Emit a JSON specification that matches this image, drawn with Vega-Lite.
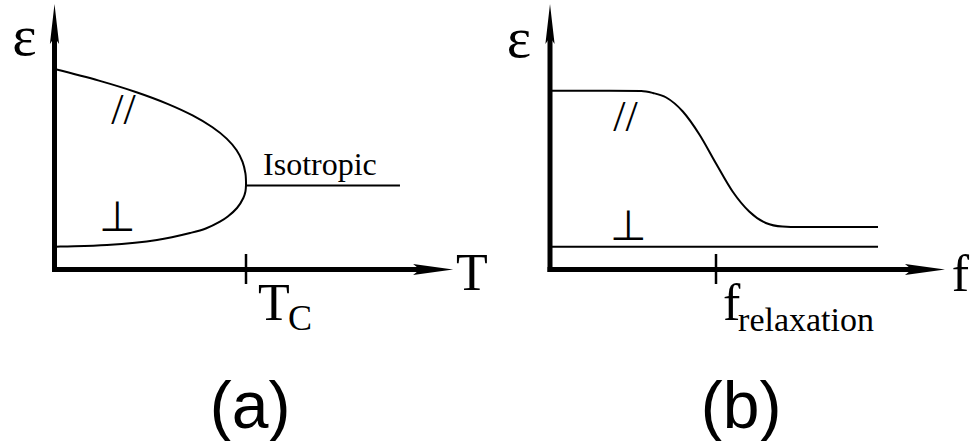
{
  "$schema": "https://vega.github.io/schema/vega-lite/v6.json",
  "padding": 0,
  "spacing": 0,
  "bounds": "flush",
  "background": "white",
  "config": {"view": {"stroke": null}, "font": "Liberation Serif, Times New Roman, Times, DejaVu Serif, serif"},
  "hconcat": [
    {
      "width": 485,
      "height": 441,
      "encoding": {
        "x": {"field": "T", "type": "quantitative", "axis": null,
              "scale": {"domain": [-0.2846, 2.248], "nice": false, "zero": false}},
        "y": {"field": "eps", "type": "quantitative", "axis": null,
              "scale": {"domain": [-1.715, 2.695], "nice": false, "zero": false}}
      },
      "layer": [
        {
          "data": {"values": [
            {"i": 0, "T": 0.0, "eps": 2.005},
            {"i": 1, "T": 0.232, "eps": 1.889},
            {"i": 2, "T": 0.428, "eps": 1.773},
            {"i": 3, "T": 0.59, "eps": 1.657},
            {"i": 4, "T": 0.721, "eps": 1.541},
            {"i": 5, "T": 0.823, "eps": 1.425},
            {"i": 6, "T": 0.899, "eps": 1.309},
            {"i": 7, "T": 0.951, "eps": 1.193},
            {"i": 8, "T": 0.982, "eps": 1.077},
            {"i": 9, "T": 0.997, "eps": 0.961},
            {"i": 10, "T": 0.9995, "eps": 0.903},
            {"i": 11, "T": 1.0, "eps": 0.845},
            {"i": 12, "T": 0.997, "eps": 0.78},
            {"i": 13, "T": 0.986, "eps": 0.715},
            {"i": 14, "T": 0.953, "eps": 0.615},
            {"i": 15, "T": 0.905, "eps": 0.53},
            {"i": 16, "T": 0.864, "eps": 0.478},
            {"i": 17, "T": 0.79, "eps": 0.41},
            {"i": 18, "T": 0.708, "eps": 0.365},
            {"i": 19, "T": 0.535, "eps": 0.295},
            {"i": 20, "T": 0.274, "eps": 0.245},
            {"i": 21, "T": 0.0, "eps": 0.228}
          ]},
          "mark": {"type": "line", "interpolate": "catmull-rom", "color": "black", "strokeWidth": 2},
          "encoding": {"order": {"field": "i", "type": "quantitative"}}
        },
        {
          "data": {"values": [{"T": 1.0, "T2": 1.804, "eps": 0.84, "eps2": 0.84}]},
          "mark": {"type": "rule", "color": "black", "strokeWidth": 2},
          "encoding": {"x2": {"field": "T2"}, "y2": {"field": "eps2"}}
        },
        {
          "data": {"values": [
            {"T": 0.0, "T2": 0.0, "eps": -0.025, "eps2": 2.4},
            {"T": -0.013, "T2": 1.935, "eps": 0.0, "eps2": 0.0}
          ]},
          "mark": {"type": "rule", "color": "black", "strokeWidth": 5},
          "encoding": {"x2": {"field": "T2"}, "y2": {"field": "eps2"}}
        },
        {
          "data": {"values": [{"T": 1.0, "T2": 1.0, "eps": 0.155, "eps2": -0.145}]},
          "mark": {"type": "rule", "color": "black", "strokeWidth": 2.5},
          "encoding": {"x2": {"field": "T2"}, "y2": {"field": "eps2"}}
        },
        {
          "data": {"values": [{"T": 0.0, "eps": 2.455}]},
          "mark": {"type": "point", "filled": true, "color": "black", "opacity": 1, "strokeWidth": 0,
                   "size": 1600, "shape": "M0,-1L0.23,1L0,0.66L-0.23,1Z"}
        },
        {
          "data": {"values": [{"T": 1.977, "eps": 0.0}]},
          "mark": {"type": "point", "filled": true, "color": "black", "opacity": 1, "strokeWidth": 0,
                   "size": 1600, "shape": "M1,0L-1,0.28L-0.66,0L-1,-0.28Z"}
        },
        {
          "data": {"values": [
            {"T": 2.097, "eps": -0.205, "label": "T"},
            {"T": 1.063, "eps": -0.505, "label": "T"}
          ]},
          "mark": {"type": "text", "fontSize": 52, "align": "left", "baseline": "alphabetic"},
          "encoding": {"text": {"field": "label"}}
        },
        {
          "data": {"values": [{"T": 1.219, "eps": -0.605, "label": "C"}]},
          "mark": {"type": "text", "fontSize": 36, "align": "left", "baseline": "alphabetic"},
          "encoding": {"text": {"field": "label"}}
        },
        {
          "data": {"values": [{"T": 1.089, "eps": 0.945, "label": "Isotropic"}]},
          "mark": {"type": "text", "fontSize": 32, "align": "left", "baseline": "alphabetic"},
          "encoding": {"text": {"field": "label"}}
        },
        {
          "data": {"values": [{"T": -0.157, "eps": 2.145, "label": "ε"}]},
          "mark": {"type": "text", "fontSize": 58, "align": "center", "baseline": "alphabetic"},
          "encoding": {"text": {"field": "label"}}
        },
        {
          "data": {"values": [{"T": 0.36, "eps": 1.455, "label": "//"}]},
          "mark": {"type": "text", "fontSize": 44, "align": "center", "baseline": "alphabetic"},
          "encoding": {"text": {"field": "label"}}
        },
        {
          "data": {"values": [{"T": 0.328, "eps": 0.385, "label": "⊥"}]},
          "mark": {"type": "text", "font": "DejaVu Sans", "fontSize": 42, "align": "center", "baseline": "alphabetic"},
          "encoding": {"text": {"field": "label"}}
        },
        {
          "data": {"values": [{"T": 1.021, "eps": -1.585, "label": "(a)"}]},
          "mark": {"type": "text", "font": "Liberation Sans, Arial, sans-serif", "fontSize": 66, "align": "center", "baseline": "alphabetic"},
          "encoding": {"text": {"field": "label"}}
        }
      ]
    },
    {
      "width": 485,
      "height": 441,
      "encoding": {
        "x": {"field": "f", "type": "quantitative", "axis": null,
              "scale": {"domain": [-0.3916, 2.5301], "nice": false, "zero": false}},
        "y": {"field": "eps", "type": "quantitative", "axis": null,
              "scale": {"domain": [-1.715, 2.695], "nice": false, "zero": false}}
      },
      "layer": [
        {
          "data": {"values": [
            {"f": 0.0, "eps": 1.788},
            {"f": 0.55, "eps": 1.785},
            {"f": 0.62, "eps": 1.765},
            {"f": 0.7, "eps": 1.72},
            {"f": 0.8, "eps": 1.58},
            {"f": 0.9, "eps": 1.35},
            {"f": 1.0, "eps": 1.06},
            {"f": 1.1, "eps": 0.78},
            {"f": 1.2, "eps": 0.58},
            {"f": 1.3, "eps": 0.465},
            {"f": 1.4, "eps": 0.43},
            {"f": 1.5, "eps": 0.425},
            {"f": 1.976, "eps": 0.425}
          ]},
          "mark": {"type": "line", "interpolate": "monotone", "color": "black", "strokeWidth": 2}
        },
        {
          "data": {"values": [{"f": 0.0, "f2": 1.976, "eps": 0.228, "eps2": 0.228}]},
          "mark": {"type": "rule", "color": "black", "strokeWidth": 2},
          "encoding": {"x2": {"field": "f2"}, "y2": {"field": "eps2"}}
        },
        {
          "data": {"values": [
            {"f": 0.0, "f2": 0.0, "eps": -0.025, "eps2": 2.4},
            {"f": -0.015, "f2": 2.21, "eps": 0.0, "eps2": 0.0}
          ]},
          "mark": {"type": "rule", "color": "black", "strokeWidth": 5},
          "encoding": {"x2": {"field": "f2"}, "y2": {"field": "eps2"}}
        },
        {
          "data": {"values": [{"f": 1.0, "f2": 1.0, "eps": 0.155, "eps2": -0.145}]},
          "mark": {"type": "rule", "color": "black", "strokeWidth": 2.5},
          "encoding": {"x2": {"field": "f2"}, "y2": {"field": "eps2"}}
        },
        {
          "data": {"values": [{"f": 0.0, "eps": 2.455}]},
          "mark": {"type": "point", "filled": true, "color": "black", "opacity": 1, "strokeWidth": 0,
                   "size": 1600, "shape": "M0,-1L0.23,1L0,0.66L-0.23,1Z"}
        },
        {
          "data": {"values": [{"f": 2.259, "eps": 0.0}]},
          "mark": {"type": "point", "filled": true, "color": "black", "opacity": 1, "strokeWidth": 0,
                   "size": 1600, "shape": "M1,0L-1,0.28L-0.66,0L-1,-0.28Z"}
        },
        {
          "data": {"values": [
            {"f": 2.42, "eps": -0.215, "label": "f"},
            {"f": 1.042, "eps": -0.505, "label": "f"}
          ]},
          "mark": {"type": "text", "fontSize": 52, "align": "left", "baseline": "alphabetic"},
          "encoding": {"text": {"field": "label"}}
        },
        {
          "data": {"values": [{"f": 1.133, "eps": -0.615, "label": "relaxation"}]},
          "mark": {"type": "text", "fontSize": 34, "align": "left", "baseline": "alphabetic"},
          "encoding": {"text": {"field": "label"}}
        },
        {
          "data": {"values": [{"f": -0.187, "eps": 2.13, "label": "ε"}]},
          "mark": {"type": "text", "fontSize": 58, "align": "center", "baseline": "alphabetic"},
          "encoding": {"text": {"field": "label"}}
        },
        {
          "data": {"values": [{"f": 0.455, "eps": 1.385, "label": "//"}]},
          "mark": {"type": "text", "fontSize": 44, "align": "center", "baseline": "alphabetic"},
          "encoding": {"text": {"field": "label"}}
        },
        {
          "data": {"values": [{"f": 0.472, "eps": 0.3, "label": "⊥"}]},
          "mark": {"type": "text", "font": "DejaVu Sans", "fontSize": 42, "align": "center", "baseline": "alphabetic"},
          "encoding": {"text": {"field": "label"}}
        },
        {
          "data": {"values": [{"f": 1.151, "eps": -1.585, "label": "(b)"}]},
          "mark": {"type": "text", "font": "Liberation Sans, Arial, sans-serif", "fontSize": 66, "align": "center", "baseline": "alphabetic"},
          "encoding": {"text": {"field": "label"}}
        }
      ]
    }
  ]
}
